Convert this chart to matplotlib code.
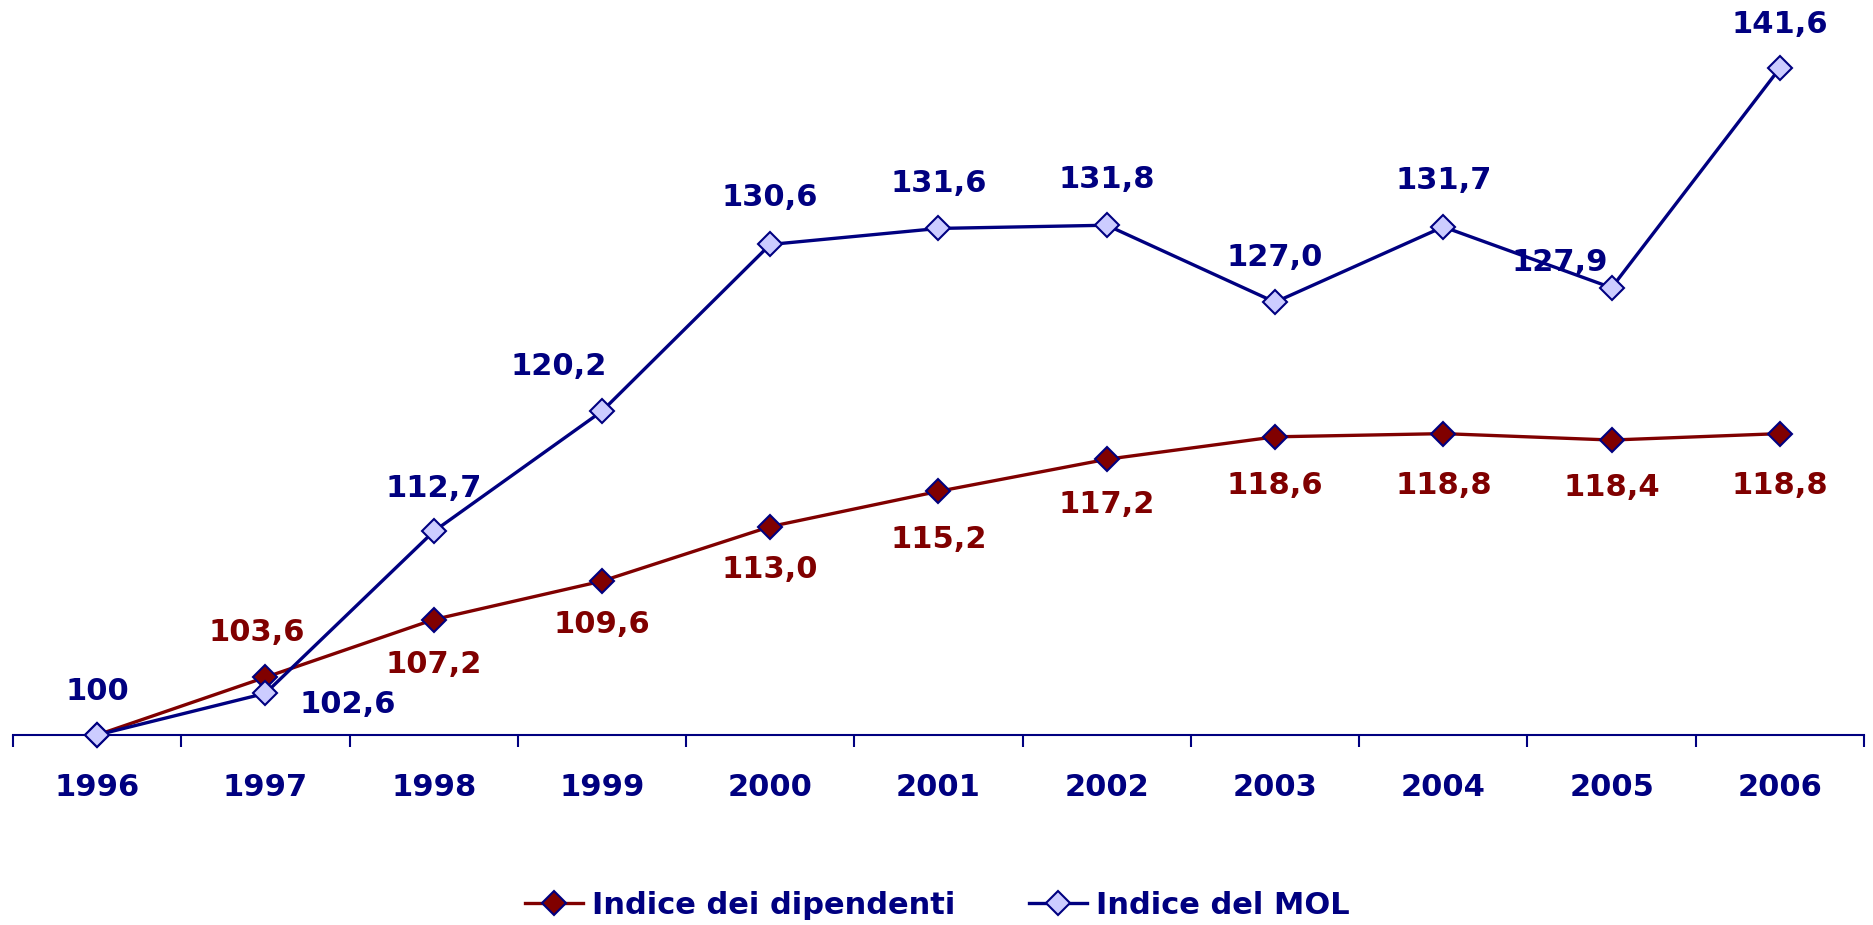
import matplotlib
matplotlib.use("Agg")
import matplotlib.pyplot as plt
from matplotlib.ticker import FixedLocator

years = ["1996", "1997", "1998", "1999", "2000", "2001", "2002", "2003", "2004", "2005", "2006"]
dipendenti = [100, 103.6, 107.2, 109.6, 113.0, 115.2, 117.2, 118.6, 118.8, 118.4, 118.8]
mol = [100, 102.6, 112.7, 120.2, 130.6, 131.6, 131.8, 127.0, 131.7, 127.9, 141.6]
label_dip = "Indice dei dipendenti"
label_mol = "Indice del MOL"

RED = "#800000"
NAVY = "#000080"
LIGHT = "#CCCCFF"

plt.rcParams['font.family'] = ['DejaVu Sans']
fig = plt.figure(figsize=(18.74, 9.25), dpi=100)
ax = fig.add_axes([13 / 1874, 1 - 735 / 925, (1864 - 13) / 1874, 735 / 925])

x = list(range(len(years)))
ax.plot(x, dipendenti, color=RED, lw=2.4, marker="D", markersize=12.5,
        markerfacecolor=RED, markeredgecolor=NAVY, markeredgewidth=1.5,
        label=label_dip, clip_on=False, zorder=3)
ax.plot(x, mol, color=NAVY, lw=2.4, marker="D", markersize=12.5,
        markerfacecolor=LIGHT, markeredgecolor=NAVY, markeredgewidth=1.5,
        label=label_mol, clip_on=False, zorder=4)

ax.set_xlim(-0.5, len(years) - 0.5)
ax.set_ylim(100, 145.85)

def fmt(v, i):
    if i == 0:
        return "100"
    return f"{v:.1f}".replace(".", ",")

px = 0.72  # points per pixel at dpi 100
# offsets in pixels (dx, dy) for labels; dy positive = up
mol_off = [(0, 44), (82, -11), (0, 43), (-43, 45), (0, 47), (0, 45), (0, 46), (0, 45), (0, 46), (-52, 25), (0, 44)]
dip_off = [None, (-9, 45), (0, -45), (0, -43), (0, -43), (0, -48), (0, -45), (0, -49), (0, -52), (0, -47), (0, -52)]

for i, v in enumerate(mol):
    dx, dy = mol_off[i]
    ax.annotate(fmt(v, i), (i, v), xytext=(dx * px, dy * px), textcoords="offset points",
                ha="center", va="center", fontsize=22, fontweight="bold", color=NAVY,
                annotation_clip=False)
for i, v in enumerate(dipendenti):
    if dip_off[i] is None:
        continue
    dx, dy = dip_off[i]
    ax.annotate(fmt(v, 1), (i, v), xytext=(dx * px, dy * px), textcoords="offset points",
                ha="center", va="center", fontsize=22, fontweight="bold", color=RED,
                annotation_clip=False)

for s in ["top", "right", "left"]:
    ax.spines[s].set_visible(False)
ax.spines["bottom"].set_color(NAVY)
ax.spines["bottom"].set_linewidth(1.5)
ax.set_yticks([])
ax.set_xticks(x)
ax.set_xticklabels(years)
ax.xaxis.set_minor_locator(FixedLocator([i - 0.5 for i in range(len(years) + 1)]))
ax.tick_params(axis="x", which="major", length=0, pad=27, labelsize=22, labelcolor=NAVY)
ax.tick_params(axis="x", which="minor", length=8.6, width=1.5, color=NAVY, direction="out")
for t in ax.get_xticklabels():
    t.set_fontweight("bold")

leg = fig.legend(loc="center", bbox_to_anchor=(0.5, 1 - 905 / 925), ncol=2, frameon=False,
                 handlelength=1.9, columnspacing=2.4, handletextpad=0.3,
                 prop={"weight": "bold", "size": 22})
for t in leg.get_texts():
    t.set_color(NAVY)

fig.savefig("out.png", dpi=100, facecolor="white")
